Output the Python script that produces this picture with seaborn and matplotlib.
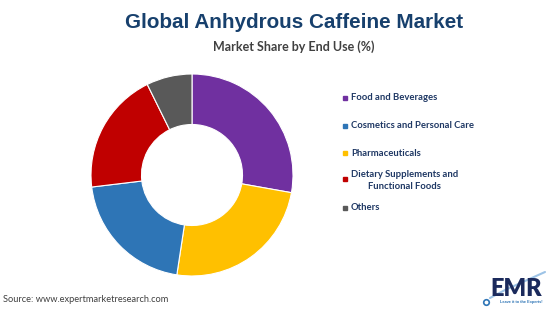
import matplotlib
matplotlib.use("Agg")
import matplotlib.pyplot as plt
import seaborn as sns
from matplotlib.lines import Line2D

categories = ["Food and Beverages", "Pharmaceuticals", "Cosmetics and Personal Care",
              "Dietary Supplements and\nFunctional Foods", "Others"]
shares = [27.8, 24.6, 20.7, 19.6, 7.3]
colors = ["#7030A0", "#FFC000", "#2E75B6", "#C00000", "#595959"]
legend_order = ["Food and Beverages", "Cosmetics and Personal Care", "Pharmaceuticals",
                "Dietary Supplements and\nFunctional Foods", "Others"]

sns.set_theme(style="white")
plt.rcParams["font.family"] = ["Liberation Sans", "DejaVu Sans"]

W, H = 550, 309
fig = plt.figure(figsize=(W / 100, H / 100), dpi=100)
fig.patch.set_facecolor("white")

cx, cy, r = 192, 175, 101
ax = fig.add_axes([(cx - r) / W, (H - cy - r) / H, 2 * r / W, 2 * r / H])
wedges, _ = ax.pie(shares, colors=colors, startangle=90, counterclock=False, radius=1,
                   wedgeprops=dict(width=0.5, edgecolor="white", linewidth=0.8))
ax.set_xlim(-1, 1)
ax.set_ylim(-1, 1)
ax.set_aspect("equal")
ax.axis("off")

fig.text(294 / W, 1 - 22.5 / H, "Global Anhydrous Caffeine Market", ha="center", va="center",
         fontsize=14.9, fontweight="bold", color="#17406D")
fig.text(294 / W, 1 - 47 / H, "Market Share by End Use (%)", ha="center", va="center",
         fontsize=9, fontweight="bold", color="#404040", family=["Lato", "DejaVu Sans"])

color_map = dict(zip(categories, colors))
for i, lab in enumerate(legend_order):
    y = 98 + 27.5 * i
    my = y - 1.5 if "\n" in lab else y
    fig.add_artist(Line2D([345 / W], [1 - my / H], marker="s", markersize=2.6,
                          color=color_map[lab], linestyle="none", transform=fig.transFigure))
    fig.text(351 / W, 1 - y / H, lab, ha="left", va="center", fontsize=6.8,
             fontweight="bold", color="#1F3864", multialignment="center",
             linespacing=1.35, family=["Lato", "DejaVu Sans"])

fig.text(3 / W, 1 - 300 / H, "Source: www.expertmarketresearch.com", ha="left", va="center",
         fontsize=6.7, color="#404040", family=["Lato", "DejaVu Sans"])

# EMR logo text
fig.text(516 / W, 1 - 289 / H, "EMR", ha="center", va="center", fontsize=17,
         fontweight="heavy", color="#1B2A5C", family=["Lato", "DejaVu Sans"])
fig.text(521 / W, 1 - 302.5 / H, "Leave it to the Experts!", ha="center", va="center",
         fontsize=2.8, fontweight="bold", color="#2E75B6")
fig.add_artist(Line2D([486 / W], [1 - 302 / H], marker="o", markersize=4, markerfacecolor="white",
                      markeredgecolor="#2E75B6", markeredgewidth=1.2, linestyle="none",
                      transform=fig.transFigure))
fig.add_artist(Line2D([490 / W, 505 / W, 545 / W], [1 - 298 / H, 1 - 290 / H, 1 - 272 / H],
                      color="#9DC3E6", linewidth=1.5, transform=fig.transFigure, zorder=0))

fig.savefig("out.png", dpi=100, facecolor="white")
